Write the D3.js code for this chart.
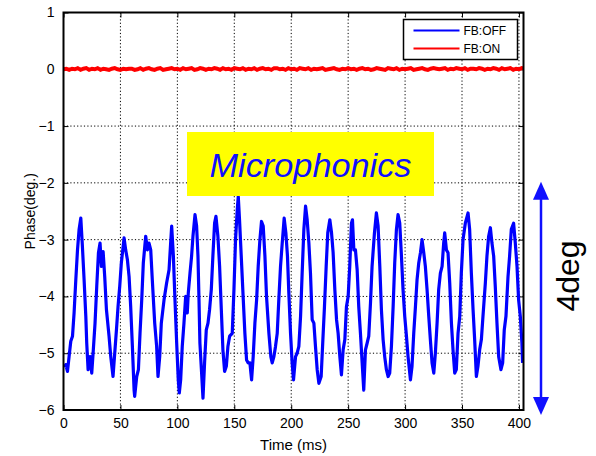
<!DOCTYPE html>
<meta charset="utf-8">
<script src="https://d3js.org/d3.v7.min.js"></script>
<style>
  body { margin: 0; background: #fff; }
  text { font-family: "Liberation Sans", Arial, sans-serif; }
</style>
<div id="my_dataviz"></div>
<script>

    // FB:OFF trace, time (ms) and phase (deg.)
    var offTime = [1.0,2.0,3.5,4.9,6.4,7.9,9.3,10.8,12.3,13.7,15.2,16.6,18.1,19.6,20.4,21.6,23.4,24.8,26.0,27.7,29.2,30.7,32.1,33.3,34.8,36.2,37.7,40.0,41.5,43.5,45.0,46.5,47.9,49.4,50.8,53.2,54.6,56.1,57.6,59.0,60.5,62.0,62.5,64.3,65.8,67.2,68.7,70.1,72.2,73.7,75.1,76.6,78.0,80.1,81.8,83.0,84.5,85.9,88.3,90.6,92.7,94.1,95.0,96.5,97.9,99.4,100.8,101.7,
        102.9,104.3,105.8,107.3,108.7,109.6,111.1,112.5,113.7,115.5,116.9,118.1,119.0,119.8,121.3,122.5,123.9,125.4,126.9,128.3,129.8,131.2,132.7,133.9,135.6,137.1,138.6,140.0,141.5,143.0,144.4,145.9,148.2,149.7,151.1,152.6,153.5,154.6,156.1,157.9,159.3,160.8,162.2,163.7,165.2,166.6,168.1,169.6,171.0,172.5,173.9,175.4,176.9,178.3,180.4,182.1,183.3,184.8,186.2,187.7,189.1,190.6,192.1,193.8,195.3,196.7,197.9,199.4,200.8,202.0,
        203.8,205.2,206.7,208.2,209.6,211.1,212.6,214.0,215.5,216.9,218.4,219.9,221.3,222.8,224.3,226.3,227.8,229.2,230.7,232.1,233.9,235.4,236.8,238.3,239.8,241.2,242.7,244.1,245.6,247.1,248.5,250.0,251.4,252.9,253.8,255.0,256.4,257.9,259.3,260.8,262.3,263.7,265.2,266.7,268.1,269.6,271.0,273.1,274.8,276.3,277.8,279.2,280.7,282.1,283.6,285.1,286.5,288.0,289.5,290.9,292.4,293.8,295.3,296.8,298.2,299.7,301.2,302.6,
        304.7,306.1,307.6,309.1,310.5,312.0,313.5,314.9,316.4,317.8,319.3,320.8,322.2,323.7,325.2,326.6,328.1,329.5,331.0,332.5,333.9,334.8,336.3,337.7,339.2,340.7,342.1,343.6,345.0,346.5,348.0,349.4,350.9,352.9,355.3,356.7,358.2,359.7,361.1,362.6,364.0,365.5,367.0,368.4,370.5,371.9,373.4,374.9,376.3,377.8,379.2,380.7,382.2,384.2,385.7,387.1,388.6,390.4,391.8,393.3,395.3,396.8,398.3,399.7,401.2,402.6,403.2];
    var offPhase = [-5.25,-5.20,-5.32,-5.06,-4.79,-4.70,-4.29,-3.71,-3.18,-2.82,-2.62,-3.12,-3.71,-4.35,-4.82,-5.29,-5.06,-5.35,-5.00,-4.47,-3.82,-3.23,-3.06,-3.47,-3.21,-3.65,-4.23,-4.70,-5.06,-5.41,-5.00,-4.59,-4.18,-3.82,-3.41,-2.97,-3.18,-3.35,-3.65,-4.18,-4.88,-5.65,-5.76,-5.41,-5.29,-4.65,-4.06,-3.41,-2.94,-3.18,-3.06,-3.18,-3.71,-4.47,-4.88,-5.41,-5.06,-4.47,-4.06,-3.76,-3.53,-3.06,-2.76,-3.29,-4.06,-4.82,-5.47,-5.70,
        -5.47,-4.88,-4.47,-4.00,-4.29,-3.94,-3.59,-3.29,-2.94,-2.56,-2.76,-3.29,-4.06,-4.82,-5.35,-5.79,-5.17,-4.59,-4.47,-4.23,-3.88,-3.29,-2.71,-2.59,-2.94,-3.47,-4.23,-4.94,-5.32,-5.23,-4.88,-4.70,-4.65,-3.88,-3.00,-2.47,-2.24,-2.65,-3.29,-4.06,-4.65,-5.12,-5.17,-5.17,-5.47,-5.06,-4.47,-4.06,-3.47,-3.00,-2.68,-2.76,-3.29,-4.00,-4.65,-5.06,-5.17,-5.06,-4.88,-4.65,-4.06,-3.47,-3.06,-2.62,-2.88,-3.29,-3.94,-4.65,-5.17,-5.47,
        -5.06,-5.00,-4.88,-4.35,-3.59,-2.82,-2.41,-2.65,-3.06,-3.59,-4.41,-4.47,-4.88,-5.29,-5.53,-5.41,-4.76,-4.18,-3.47,-2.88,-2.65,-2.88,-3.23,-3.88,-4.41,-4.65,-5.06,-5.38,-4.94,-4.76,-4.18,-4.00,-3.47,-2.71,-2.65,-3.18,-3.18,-3.53,-4.18,-4.65,-5.17,-5.65,-4.94,-4.82,-4.70,-4.12,-3.47,-2.88,-2.53,-2.76,-3.47,-4.23,-4.76,-5.06,-5.29,-5.41,-5.35,-4.88,-4.18,-3.41,-2.82,-2.56,-2.71,-3.29,-3.88,-4.35,-4.70,-5.06,
        -5.47,-5.23,-4.65,-4.18,-3.71,-3.41,-3.23,-3.00,-3.23,-3.47,-3.88,-4.35,-4.76,-5.17,-5.35,-5.00,-4.47,-3.88,-3.59,-3.47,-3.06,-2.88,-3.18,-3.23,-3.76,-4.47,-4.94,-5.35,-5.29,-4.65,-4.35,-3.59,-3.00,-2.71,-2.53,-2.82,-3.59,-4.23,-4.76,-5.41,-5.23,-4.94,-4.76,-4.35,-3.76,-3.29,-2.94,-2.79,-3.06,-3.29,-3.82,-4.47,-5.06,-5.29,-5.17,-4.59,-4.35,-3.65,-3.29,-2.82,-2.71,-3.06,-3.47,-4.06,-4.35,-4.82,-5.17];

    // FB:ON trace, sampled every 2.5 ms
    var onPhase = [0.00,0.01,-0.01,0.01,0.00,0.02,-0.01,0.01,0.02,-0.01,0.01,0.00,0.02,-0.01,0.01,0.00,-0.01,0.01,0.02,0.00,
        -0.01,0.01,0.00,0.01,0.01,-0.01,0.00,0.02,-0.01,0.01,0.02,0.00,-0.01,0.01,0.02,-0.01,0.00,0.01,0.02,0.00,
        0.01,-0.01,0.02,0.00,0.01,0.02,-0.01,0.00,0.02,0.01,-0.01,0.01,0.00,0.02,0.01,-0.01,0.02,0.00,0.01,-0.01,
        0.02,0.01,0.00,0.02,-0.01,0.01,0.00,0.02,-0.01,0.01,0.02,0.00,0.01,-0.01,0.02,0.02,0.00,0.01,-0.01,0.02,
        0.00,0.01,-0.01,0.02,0.01,0.00,0.02,-0.01,0.01,0.00,0.01,0.02,-0.01,0.00,0.01,0.02,0.00,-0.01,0.01,0.00,
        0.02,0.00,0.01,-0.01,0.01,0.02,0.00,0.01,-0.01,0.00,0.02,0.01,0.00,-0.01,0.02,0.01,0.00,0.02,-0.01,0.01,
        0.00,0.01,0.02,-0.01,0.00,0.01,0.02,0.00,-0.01,0.01,0.02,0.01,0.00,0.01,0.02,-0.01,0.01,0.00,0.02,0.01,
        0.00,0.02,-0.01,0.01,0.01,0.00,0.02,0.01,-0.01,0.01,0.00,0.02,0.01,-0.01,0.02,0.00,0.01,0.02,-0.01,0.01,
        0.00,0.02,0.01];
    var onStep = 2.5;

    var xTicks = [0, 50, 100, 150, 200, 250, 300, 350, 400];
    var yTicks = [1, 0, -1, -2, -3, -4, -5, -6];
    var legendLabels = ["FB:OFF", "FB:ON"];
    var legendColors = ["#0000ff", "#ff0000"];

    var margin = {top: 12.5, left: 63.5},
        width = 460,
        height = 397.5;

    var svg = d3.select("#my_dataviz")
      .append("svg")
        .attr("width", 596)
        .attr("height", 456)
      .append("g")
        .attr("transform", "translate(" + margin.left + "," + margin.top + ")");

    var x = d3.scaleLinear().domain([0, 404]).range([0, width]);
    var y = d3.scaleLinear().domain([-6, 1]).range([height, 0]);

    // clip the traces to the axes box
    svg.append("defs").append("clipPath")
        .attr("id", "clip")
      .append("rect")
        .attr("width", width).attr("height", height);

    // dotted grid
    svg.append("g").selectAll("line")
      .data(xTicks.filter(function(d){ return d > 0; }))
      .enter().append("line")
        .attr("x1", function(d){ return x(d); }).attr("x2", function(d){ return x(d); })
        .attr("y1", 0).attr("y2", height)
        .attr("stroke", "#000").attr("stroke-width", 1).attr("stroke-dasharray", "1.2,2.2");
    svg.append("g").selectAll("line")
      .data(yTicks.filter(function(d){ return d > -6 && d < 1; }))
      .enter().append("line")
        .attr("x1", 0).attr("x2", width)
        .attr("y1", function(d){ return y(d); }).attr("y2", function(d){ return y(d); })
        .attr("stroke", "#000").attr("stroke-width", 1).attr("stroke-dasharray", "1.2,2.2");

    // axes (inward ticks on all four sides)
    var axB = svg.append("g")
        .attr("transform", "translate(0," + height + ")")
        .call(d3.axisBottom(x).tickValues(xTicks).tickSizeInner(-5).tickSizeOuter(0).tickPadding(8));
    var axT = svg.append("g")
        .call(d3.axisTop(x).tickValues(xTicks).tickSizeInner(-5).tickSizeOuter(0).tickFormat(""));
    var axL = svg.append("g")
        .call(d3.axisLeft(y).tickValues(yTicks).tickSizeInner(-5).tickSizeOuter(0).tickPadding(9)
          .tickFormat(function(d){ return d < 0 ? "\u2212" + (-d) : d; }));
    var axR = svg.append("g")
        .attr("transform", "translate(" + width + ",0)")
        .call(d3.axisRight(y).tickValues(yTicks).tickSizeInner(-5).tickSizeOuter(0).tickFormat(""));
    [axB, axT, axL, axR].forEach(function(a){
        a.select(".domain").remove();
        a.selectAll("line").attr("stroke", "#000").attr("stroke-width", 1);
        a.selectAll("text").attr("fill", "#000").style("font-size", "14px")
          .style("font-family", "'Liberation Sans Narrow', 'Liberation Sans', Arial, sans-serif");
    });

    var line = d3.line()
        .x(function(d){ return x(d[0]); })
        .y(function(d){ return y(d[1]); });

    var traces = svg.append("g").attr("clip-path", "url(#clip)");

    // FB:ON
    traces.append("path")
        .attr("d", line(onPhase.map(function(v, i){ return [i * onStep, v]; })))
        .attr("fill", "none").attr("stroke", "#ff0000").attr("stroke-width", 4)
        .attr("stroke-linejoin", "miter");

    // FB:OFF
    traces.append("path")
        .attr("d", line(offTime.map(function(t, i){ return [t, offPhase[i]]; })))
        .attr("fill", "none").attr("stroke", "#0000ff").attr("stroke-width", 3.2)
        .attr("stroke-linejoin", "round");

    // frame
    svg.append("rect")
        .attr("width", width).attr("height", height)
        .attr("fill", "none").attr("stroke", "#000").attr("stroke-width", 2);

    // legend
    var legend = svg.append("g").attr("transform", "translate(340,7)");
    legend.append("rect")
        .attr("width", 114).attr("height", 40)
        .attr("fill", "#fff").attr("stroke", "#000").attr("stroke-width", 1.5);
    legendLabels.forEach(function(lab, i){
        legend.append("line")
            .attr("x1", 10).attr("x2", 56)
            .attr("y1", 11 + i * 18).attr("y2", 11 + i * 18)
            .attr("stroke", legendColors[i]).attr("stroke-width", 2);
        legend.append("text")
            .attr("x", 60).attr("y", 15 + i * 18)
            .style("font-size", "12px").attr("fill", "#000")
            .text(lab);
    });

    // axis titles
    svg.append("text")
        .attr("x", x(202)).attr("y", height + 40)
        .attr("text-anchor", "middle").style("font-size", "15px")
        .text("Time (ms)");
    svg.append("text")
        .attr("transform", "translate(-29," + y(-2.5) + ") rotate(-90)")
        .attr("text-anchor", "middle").style("font-size", "14px")
        .text("Phase(deg.)");

    // annotation box
    svg.append("rect")
        .attr("x", 123.5).attr("y", 119.5).attr("width", 247).attr("height", 64)
        .attr("fill", "#ffff00");
    svg.append("text")
        .attr("x", 247).attr("y", 164)
        .attr("text-anchor", "middle")
        .attr("textLength", 202).attr("lengthAdjust", "spacingAndGlyphs")
        .style("font-size", "33px").style("font-style", "italic")
        .attr("fill", "#1010ff")
        .text("Microphonics");

    // 4deg arrow, outside the axes
    var ax = 477.5, aTop = y(-1.98), aBot = y(-6.09);
    svg.append("line")
        .attr("x1", ax).attr("x2", ax).attr("y1", aTop + 14).attr("y2", aBot - 14)
        .attr("stroke", "#1010ff").attr("stroke-width", 2.5);
    svg.append("path")
        .attr("d", "M" + ax + "," + aTop + "L" + (ax - 8) + "," + (aTop + 18) + "L" + (ax + 8) + "," + (aTop + 18) + "Z")
        .attr("fill", "#1010ff");
    svg.append("path")
        .attr("d", "M" + ax + "," + aBot + "L" + (ax - 8) + "," + (aBot - 18) + "L" + (ax + 8) + "," + (aBot - 18) + "Z")
        .attr("fill", "#1010ff");
    svg.append("text")
        .attr("transform", "translate(515," + (276 - margin.top) + ") rotate(-90)")
        .attr("text-anchor", "middle").style("font-size", "32px").attr("fill", "#000")
        .text("4deg");

</script>
